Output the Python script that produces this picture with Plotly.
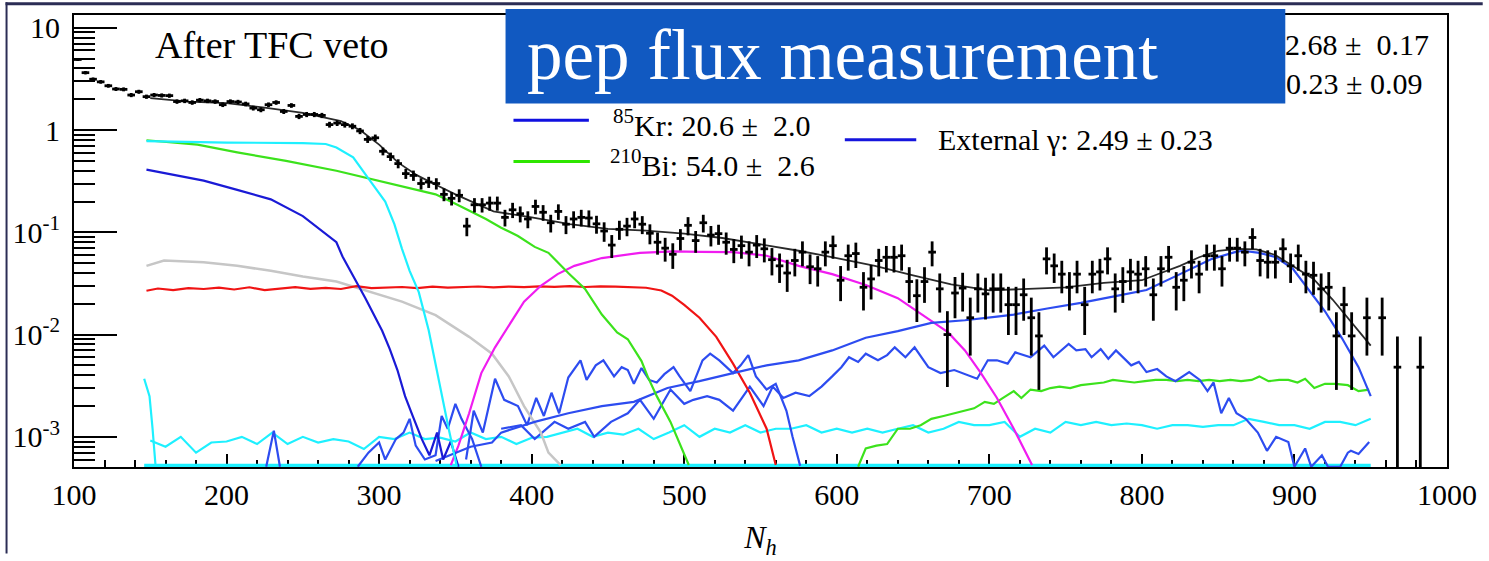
import plotly.graph_objects as go

W, H = 1489, 561
ML, MR, MT, MB = 69, 36, 13, 88
PW = W - ML - MR
PH = H - MT - MB

def pxx(xp):
    return (xp - ML) / PW

def pxy(yp):
    return (H - MB - yp) / PH

FONT = "Liberation Serif"

# ---------------- data (N_h histogram, bin width 5) ----------------
BIN_CENTERS = [102.5 + 5 * k for k in range(177)]
DATA_Y = [
    4.9, 3.64, 3.14, 2.96, 2.71, 2.52, 2.5, 2.2, 2.37, 2.12,
    2.2, 2.18, 2.17, 1.9, 1.93, 1.86, 1.96, 1.93, 1.9, 1.77,
    1.9, 1.88, 1.8, 1.64, 1.58, 1.77, 1.86, 1.52, 1.74, 1.36,
    1.42, 1.42, 1.39, 1.13, 1.17, 1.13, 1.09, 0.98, 0.81, 0.84,
    0.62, 0.55, 0.47, 0.375, 0.36, 0.30, 0.31, 0.30, 0.235, 0.215,
    0.23, 0.115, 0.186, 0.186, 0.193, 0.193, 0.14, 0.166, 0.152, 0.135,
    0.179, 0.157, 0.124, 0.160, 0.12, 0.135, 0.14, 0.138, 0.121, 0.103,
    0.075, 0.107, 0.115, 0.135, 0.12, 0.098, 0.08, 0.07, 0.061, 0.087,
    0.117, 0.083, 0.124, 0.094, 0.097, 0.08, 0.068, 0.074, 0.064, 0.075,
    0.069, 0.054, 0.047, 0.04, 0.053, 0.064, 0.046, 0.044, 0.064, 0.074,
    0.034, 0.059, 0.062, 0.029, 0.035, 0.053, 0.057, 0.057, 0.059, 0.033,
    0.024, 0.033, 0.064, 0.028, 0.010, 0.0255, 0.0285, 0.0146, 0.028, 0.025,
    0.028, 0.028, 0.0196, 0.0196, 0.0245, 0.0146, 0.0097, 0.055, 0.047, 0.039,
    0.029, 0.039, 0.0196, 0.039, 0.041, 0.055, 0.028, 0.033, 0.041, 0.039,
    0.044, 0.0245, 0.044, 0.057, 0.029, 0.034, 0.051, 0.039, 0.059, 0.059,
    0.044, 0.070, 0.070, 0.064, 0.089, 0.053, 0.051, 0.051, 0.069, 0.047,
    0.059, 0.039, 0.038, 0.028, 0.029, 0.0097, 0.0196, 0.0097, None, 0.0146,
    None, 0.0146, None, 0.0048, None, None, 0.0048,
]
COUNT_WEIGHT = 0.0048  # value of one event in a bin

TOTAL_N = [150, 175, 200, 225, 250, 275, 287.5, 300, 312.5, 325,
           337.5, 350, 375, 400, 425, 450, 475, 500, 525, 550,
           575, 600, 625, 650, 675, 700, 725, 750, 775, 800,
           812.5, 825, 837.5, 850, 862.5, 875, 887.5, 900, 912.5, 925,
           937.5, 950]
TOTAL_Y = [2.05, 1.90, 1.83, 1.66, 1.47, 1.22, 1.0, 0.72, 0.48, 0.36,
           0.29, 0.235, 0.16, 0.14, 0.12, 0.108, 0.104, 0.097, 0.088, 0.076,
           0.066, 0.056, 0.047, 0.038, 0.031, 0.027, 0.028, 0.029, 0.032, 0.034,
           0.040, 0.047, 0.057, 0.066, 0.069, 0.068, 0.06, 0.046, 0.035, 0.022,
           0.013, 0.0078]

CYAN_N = [147.5, 200, 250, 265, 272, 283, 294, 304, 310, 315,
          320, 326, 332.5, 339, 345.6, 351]
CYAN_Y = [0.78, 0.755, 0.745, 0.73, 0.675, 0.54, 0.32, 0.20, 0.12, 0.069,
          0.042, 0.026, 0.011, 0.0036, 0.0012, 0.00051]

CYAN_SPIKE_N = [146, 149.5, 151.5, 153.5]
CYAN_SPIKE_Y = [0.0037, 0.0025, 0.0012, 0.00051]

FLOOR_N = [146, 950]
FLOOR_Y = [0.00051, 0.00051]

BI_N = [147.5, 181, 207, 239, 272, 304, 337, 350, 370, 380,
        391, 402, 411, 424, 435, 446, 456, 463, 472, 476,
        482, 491, 497.5, 503]
BI_Y = [0.795, 0.72, 0.605, 0.50, 0.40, 0.31, 0.235, 0.19, 0.135, 0.111,
        0.092, 0.072, 0.063, 0.040, 0.028, 0.0157, 0.0105, 0.009, 0.0055, 0.0039,
        0.0025, 0.0014, 0.00082, 0.00053]

KR_N = [147.5, 185, 207, 229, 250, 272, 276, 291, 302, 307,
        312, 317, 322, 328, 333, 338, 342, 347, 352]
KR_Y = [0.41, 0.32, 0.26, 0.21, 0.144, 0.080, 0.058, 0.0227, 0.0109, 0.0072,
        0.0045, 0.0025, 0.0016, 0.00095, 0.00066, 0.0011, 0.0006, 0.0009, 0.00051]

GRAY_N = [147.5, 159, 185, 207, 229, 250, 272, 294, 315, 337,
          359, 374, 385, 395, 406, 411, 419]
GRAY_Y = [0.047, 0.053, 0.051, 0.047, 0.042, 0.037, 0.033, 0.026, 0.021, 0.0155,
          0.0095, 0.0065, 0.0039, 0.002, 0.0011, 0.0007, 0.00053]

RED_N = [147.5, 155, 165, 175, 185, 195, 205, 215, 225, 235,
         245, 255, 265, 275, 285, 295, 305, 315, 325, 335,
         345, 355, 365, 375, 385, 395, 405, 415, 425, 435,
         445, 455, 465, 475, 485, 492, 500, 510, 521, 532,
         543, 554, 560]
RED_Y = [0.0268, 0.0282, 0.0272, 0.0285, 0.0279, 0.0288, 0.0276, 0.0290, 0.0272, 0.0283,
         0.0291, 0.0280, 0.0286, 0.0279, 0.0297, 0.0284, 0.0289, 0.0292, 0.0285, 0.0294,
         0.0288, 0.0292, 0.0295, 0.0289, 0.0294, 0.0291, 0.0296, 0.0293, 0.0297, 0.0292,
         0.0296, 0.0294, 0.0290, 0.0287, 0.0270, 0.0240, 0.0195, 0.0146, 0.0095, 0.0052,
         0.0027, 0.0012, 0.00053]

MAG_N = [347, 352, 359, 367, 376, 384, 395, 406, 417, 428,
         446, 471, 493, 510, 532, 554, 575, 597, 619, 640,
         662, 673, 684, 694.5, 705, 716, 728]
MAG_Y = [0.00053, 0.00082, 0.0017, 0.0042, 0.0075, 0.0115, 0.021, 0.030, 0.039, 0.047,
         0.056, 0.063, 0.065, 0.0645, 0.064, 0.059, 0.047, 0.039, 0.0305, 0.0227,
         0.0135, 0.0105, 0.007, 0.0042, 0.0024, 0.0012, 0.00053]

EXT_N = [337, 360, 374, 380, 402, 424, 446, 467, 489, 510,
         532, 554, 575, 597, 619, 640, 662, 684, 705, 716,
         738, 760, 781, 803, 825, 846, 861, 866, 877, 888,
         899, 909, 920, 931, 942, 950]
EXT_Y = [0.00058, 0.0008, 0.00088, 0.0011, 0.0014, 0.0017, 0.002, 0.0022, 0.003, 0.0035,
         0.0042, 0.005, 0.0056, 0.007, 0.0093, 0.0108, 0.013, 0.0138, 0.015, 0.0157,
         0.018, 0.0204, 0.0235, 0.0273, 0.039, 0.055, 0.064, 0.066, 0.063, 0.057,
         0.044, 0.028, 0.0169, 0.0093, 0.0048, 0.0025]

NOISE_A_N = [357, 362, 368, 376, 382, 391, 397, 403, 408, 413, 418,
             424, 432, 436, 442, 447, 454, 459, 463, 467, 472,
             477, 482, 487, 493, 497, 504, 512, 517, 523, 532,
             537, 542, 547, 554, 560, 567, 571, 576]
NOISE_A_Y = [0.0006, 0.0018, 0.0011, 0.0037, 0.0023, 0.0020, 0.0013, 0.0024, 0.0016, 0.0027, 0.0017,
             0.0038, 0.0056, 0.0036, 0.0050, 0.0056, 0.0039, 0.0048, 0.0045, 0.0033, 0.0047,
             0.0036, 0.0034, 0.0041, 0.0048, 0.0039, 0.0028, 0.0056, 0.0065, 0.0056, 0.0042,
             0.0050, 0.0063, 0.0039, 0.0029, 0.0033, 0.0018, 0.0010, 0.00052]

NOISE_B_N = [380, 393, 402, 415, 424, 435, 441, 452, 463, 471,
             480, 491, 500, 506, 515, 523, 532, 543, 552, 558,
             565, 573, 582, 590, 597, 603, 608, 614, 619, 627,
             633, 638, 645, 651, 660, 668, 677, 684, 692, 699,
             705, 712, 717, 727, 736, 742, 752, 757, 763, 767,
             773, 778, 783, 793, 798, 803, 810, 816, 822, 831,
             838, 843, 847, 852, 857, 862, 868, 876, 882, 888,
             896, 900, 907, 911, 918, 922, 930, 935, 937, 942, 949]
NOISE_B_Y = [0.0012, 0.0013, 0.00095, 0.0014, 0.0012, 0.0014, 0.0010, 0.0014, 0.0017, 0.0023,
             0.0015, 0.0029, 0.0021, 0.0023, 0.0025, 0.0023, 0.0018, 0.0031, 0.0020, 0.0031,
             0.0024, 0.0027, 0.0025, 0.0031, 0.0039, 0.0048, 0.0060, 0.0054, 0.0065, 0.0056,
             0.0063, 0.0075, 0.0060, 0.0075, 0.0048, 0.0042, 0.0045, 0.0041, 0.0037, 0.0056,
             0.0056, 0.0052, 0.0067, 0.0060, 0.0078, 0.0060, 0.0081, 0.0070, 0.0072, 0.0060,
             0.0072, 0.0058, 0.0070, 0.0050, 0.0054, 0.0043, 0.0046, 0.0039, 0.0035, 0.0043,
             0.0036, 0.0028, 0.0034, 0.0017, 0.0024, 0.0017, 0.0015, 0.0011, 0.00073, 0.0010,
             0.00089, 0.00051, 0.00077, 0.00051, 0.00066, 0.00051, 0.00051, 0.0007, 0.00073, 0.00068, 0.00089]

NOISE_C_N = [286, 293, 300, 304, 311, 316, 320, 324, 330, 337, 341, 345, 350, 354, 361, 367]
NOISE_C_Y = [0.00051, 0.0007, 0.00088, 0.0006, 0.00095, 0.0011, 0.0015, 0.00082, 0.0006, 0.00066,
             0.0016, 0.0012, 0.0021, 0.0015, 0.00095, 0.00051]

NOISE_D_N = [226, 231, 235]
NOISE_D_Y = [0.00051, 0.00115, 0.00051]

CYAN_NOISE_N = list(range(150, 951, 10))
CYAN_NOISE_Y = [0.00092, 0.0008, 0.001, 0.0007, 0.00088, 0.0009, 0.001, 0.00085, 0.0011, 0.00085,
                0.001, 0.00088, 0.00095, 0.0009, 0.00076, 0.001, 0.00095, 0.0011, 0.00095, 0.00098,
                0.0009, 0.0011, 0.00095, 0.001, 0.00085, 0.00098, 0.001, 0.0011, 0.0012, 0.001,
                0.0011, 0.00105, 0.0012, 0.00095, 0.0011, 0.0013, 0.001, 0.0012, 0.0011, 0.0013,
                0.0011, 0.0012, 0.0012, 0.0013, 0.0011, 0.0012, 0.0011, 0.0012, 0.0011, 0.0012,
                0.0013, 0.0011, 0.0012, 0.0014, 0.0013, 0.0013, 0.0014, 0.0010, 0.0012, 0.0011,
                0.0014, 0.0013, 0.0014, 0.0013, 0.00135, 0.0013, 0.0012, 0.0013, 0.0013, 0.00125,
                0.0013, 0.0013, 0.0015, 0.0014, 0.0013, 0.0013, 0.0012, 0.0014, 0.0014, 0.0013,
                0.0015]

GREEN_NOISE_N = [614, 619, 626, 633, 640, 648, 655, 662, 670, 677,
                 684, 690, 697, 703, 709, 716, 721, 727, 734, 740,
                 746, 753, 760, 768, 775, 781, 788, 795, 802, 809,
                 816, 823, 830, 837, 844, 851, 858, 865, 872, 877,
                 883, 890, 896, 902, 907, 913, 920, 927, 935, 942, 949]
GREEN_NOISE_Y = [0.00051, 0.00077, 0.00082, 0.00085, 0.0012, 0.0012, 0.0013, 0.0015, 0.0016, 0.0017,
                 0.0018, 0.0019, 0.0022, 0.0021, 0.0024, 0.0028, 0.0024, 0.0029, 0.0028, 0.0030,
                 0.0031, 0.0030, 0.0032, 0.0033, 0.0034, 0.0036, 0.0035, 0.0034, 0.0035, 0.0036,
                 0.0036, 0.0035, 0.0036, 0.0035, 0.0036, 0.0035, 0.0036, 0.0035, 0.0036, 0.0039,
                 0.0035, 0.0036, 0.0036, 0.0034, 0.0037, 0.0030, 0.0033, 0.0033, 0.0032, 0.0028,
                 0.0029]

X_MAJOR = [100, 200, 300, 400, 500, 600, 700, 800, 900, 1000]
Y_MAJOR = [1e-3, 1e-2, 1e-1, 1, 10]
Y_LABELS = ["10<sup>-3</sup>", "10<sup>-2</sup>", "10<sup>-1</sup>", "1", "10"]
Y_MINOR = [m * 10.0 ** e for e in range(-4, 2) for m in range(2, 10)]

C_CYAN = "#1ef0ff"
C_GREEN = "#3ce21c"
C_KR = "#1a1ad6"
C_BLUE = "#2d4cf0"
C_RED = "#f01414"
C_MAG = "#f01cf0"
C_GRAY = "#c6c6c6"
C_TOTAL = "#2a2a2a"

fig = go.Figure()

def line(xs, ys, color, width=2.2):
    fig.add_trace(go.Scatter(x=xs, y=ys, mode="lines",
                             line=dict(color=color, width=width),
                             hoverinfo="skip", showlegend=False))

line(FLOOR_N, FLOOR_Y, C_CYAN, 6)
line(CYAN_NOISE_N, CYAN_NOISE_Y, C_CYAN, 2.2)
line(GREEN_NOISE_N, GREEN_NOISE_Y, C_GREEN, 2.2)
line(NOISE_D_N, NOISE_D_Y, C_BLUE, 2.2)
line(NOISE_C_N, NOISE_C_Y, C_BLUE, 2.2)
line(NOISE_A_N, NOISE_A_Y, C_BLUE, 2.2)
line(NOISE_B_N, NOISE_B_Y, C_BLUE, 2.2)
line(GRAY_N, GRAY_Y, C_GRAY, 2.5)
line(RED_N, RED_Y, C_RED, 2.2)
line(MAG_N, MAG_Y, C_MAG, 2.2)
line(EXT_N, EXT_Y, C_BLUE, 2.2)
line(BI_N, BI_Y, C_GREEN, 2.2)
line(KR_N, KR_Y, C_KR, 2.2)
line(CYAN_SPIKE_N, CYAN_SPIKE_Y, C_CYAN, 2.2)
line(CYAN_N, CYAN_Y, C_CYAN, 2.2)
line(TOTAL_N, TOTAL_Y, C_TOTAL, 1.8)

dx = [x for x, y in zip(BIN_CENTERS, DATA_Y) if y is not None]
dy = [y for y in DATA_Y if y is not None]
err = [(y * COUNT_WEIGHT) ** 0.5 for y in dy]
errm = [min(e, y * 0.999) for e, y in zip(err, dy)]
fig.add_trace(go.Scatter(
    x=dx, y=dy, mode="markers",
    marker=dict(size=3, color="black"),
    error_x=dict(type="constant", value=2.5, width=0, thickness=2.8, color="black"),
    error_y=dict(type="data", array=err, arrayminus=errm, symmetric=False,
                 width=0, thickness=2.8, color="black"),
    hoverinfo="skip", showlegend=False))

axis_font = dict(family=FONT, size=30, color="black")

fig.update_xaxes(
    type="linear", range=[100, 1000], tickvals=X_MAJOR,
    ticks="inside", ticklen=13, tickwidth=2, tickcolor="black",
    minor=dict(dtick=20, tick0=100, ticks="inside", ticklen=7, tickwidth=2, tickcolor="black", showgrid=False),
    showline=True, linewidth=2, linecolor="black", mirror=True,
    showgrid=False, zeroline=False, tickfont=axis_font, layer="below traces",
    title=dict(text="<i>N</i><sub><i>h</i></sub>", font=dict(family=FONT, size=32, color="black"), standoff=16),
)
fig.update_yaxes(
    type="log", range=[-3.295, 1.125], tickvals=Y_MAJOR, ticktext=Y_LABELS,
    ticks="inside", ticklen=43, tickwidth=2, tickcolor="black",
    minor=dict(tickvals=Y_MINOR, ticks="inside", ticklen=21, tickwidth=2, tickcolor="black", showgrid=False),
    showline=True, linewidth=2, linecolor="black", mirror=True,
    showgrid=False, zeroline=False, tickfont=axis_font, ticklabelstandoff=6,
)

shapes = []
NAVY = "#2b2d55"
# slide border (top and left)
shapes.append(dict(type="rect", xref="paper", yref="paper", x0=pxx(0), x1=pxx(W), y0=pxy(3), y1=pxy(0),
                   fillcolor=NAVY, line=dict(width=0), layer="above"))
shapes.append(dict(type="rect", xref="paper", yref="paper", x0=pxx(0), x1=pxx(2), y0=pxy(H), y1=pxy(0),
                   fillcolor=NAVY, line=dict(width=0), layer="above"))
# blue title box
shapes.append(dict(type="rect", xref="paper", yref="paper", x0=pxx(504), x1=pxx(1290), y0=pxy(103), y1=pxy(7),
                   fillcolor="#1159c1", line=dict(width=0), layer="above"))
# legend line samples
for (x0, x1, yy, col) in [(512, 588, 120, "#1010e0"), (512, 589, 162, "#2ee600"), (846, 918, 140, "#1515dd")]:
    shapes.append(dict(type="line", xref="paper", yref="paper", x0=pxx(x0), x1=pxx(x1), y0=pxy(yy), y1=pxy(yy),
                       line=dict(color=col, width=3), layer="above"))

NB = "\u00a0"
ann = []
def text(s, x, y, size, anchor="left", color="black"):
    ann.append(dict(text=s, xref="paper", yref="paper", x=pxx(x), y=pxy(y), xanchor=anchor, yanchor="middle",
                    showarrow=False, font=dict(family=FONT, size=size, color=color)))

text("After TFC veto", 149, 44, 38)
text("2.68 ±" + NB + NB + "0.17", 1437, 43, 30, anchor="right")
text("0.23 ± 0.09", 1430, 83, 30, anchor="right")
text("<sup>85</sup>Kr: 20.6 ±" + NB + NB + "2.0", 610, 123, 30)
text("<sup>210</sup>Bi: 54.0 ±" + NB + NB + "2.6", 607, 164, 30)
text("External γ: 2.49 ± 0.23", 938, 140, 30)
text("pep flux measurement", 524, 54, 71, color="white")

fig.update_layout(
    width=W, height=H, margin=dict(l=ML, r=MR, t=MT, b=MB, pad=0),
    paper_bgcolor="white", plot_bgcolor="white",
    shapes=shapes, annotations=ann, showlegend=False,
)

fig.write_html("out.html")
